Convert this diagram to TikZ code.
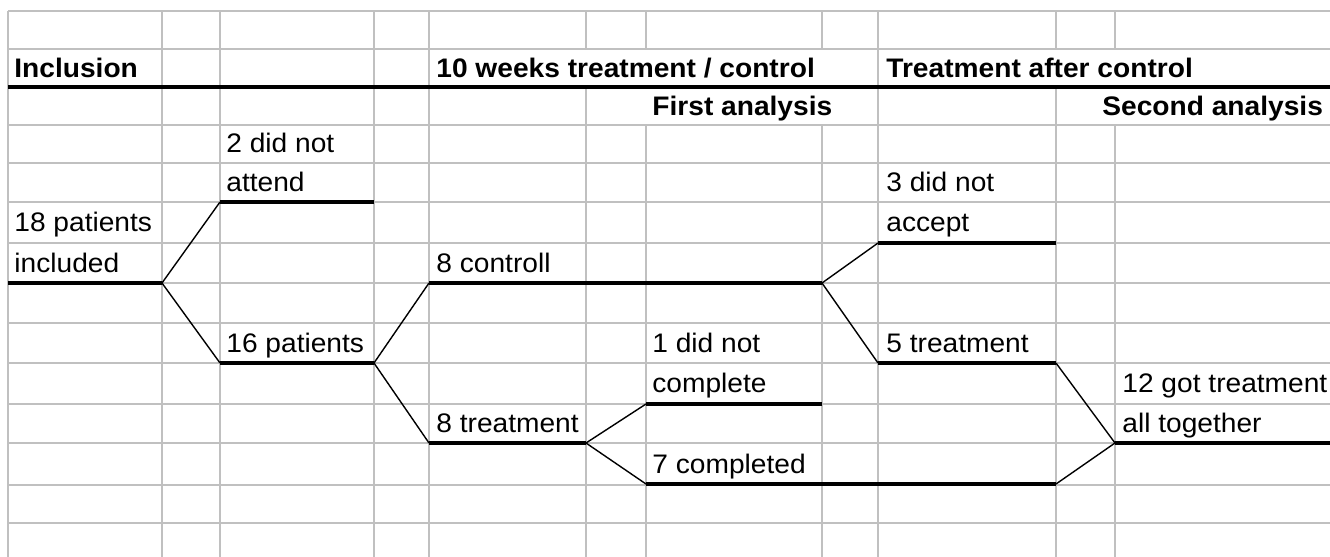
\documentclass[tikz,border=0pt]{standalone}
\usepackage{fontspec}
\setmainfont{Liberation Sans}[FakeStretch=1.05]
\definecolor{gridgray}{RGB}{192,192,192}
\tikzset{
	gridline/.style={draw=gridgray, line width=1pt},
	bar/.style={line width=1.8pt},
	branch/.style={line width=0.7pt},
	cell/.style={anchor=base west, inner sep=0pt, font=\fontsize{13.4}{16}\selectfont},
	head/.style={cell, font=\fontsize{13.4}{16}\selectfont\bfseries},
}

\begin{document}
\begin{tikzpicture}[x=0.5pt, y=-0.5pt]
		\useasboundingbox (0, 0) rectangle (1330, 557);
		% sheet grid
		\foreach \y in {11, 49, 87, 125, 163, 202, 243, 283, 323, 363, 404, 443, 485, 523}
			\draw[gridline] (8, \y) -- (1330, \y);
		\foreach \x in {8, 162, 220, 374, 429, 878}
			\draw[gridline] (\x, 11) -- (\x, 557);
		\foreach \x in {586, 1056}
			\draw[gridline] (\x, 11) -- (\x, 49) (\x, 87) -- (\x, 557);
		\foreach \x in {646, 822, 1115}
			\draw[gridline] (\x, 11) -- (\x, 49) (\x, 125) -- (\x, 557);

		\node[head] (incl-h) at (14, 77) {Inclusion};
		\node[head] (weeks-h) at (436, 77) {10 weeks treatment / control};
		\node[head] (after-h) at (886, 77) {Treatment after control};
		\node[head] (first-h) at (652, 115) {First analysis};
		\node[head] (second-h) at (1102, 115) {Second analysis};

		\node[cell] (att-a) at (226, 152) {2 did not};
		\node[cell] (att-b) at (226, 191) {attend};
		\node[cell] (incl-a) at (14, 231) {18 patients};
		\node[cell] (incl-b) at (14, 272) {included};
		\node[cell] (ctrl) at (436, 272) {8 controll};
		\node[cell] (acc-a) at (886, 191) {3 did not};
		\node[cell] (acc-b) at (886, 231) {accept};
		\node[cell] (pat) at (226, 352) {16 patients};
		\node[cell] (five) at (886, 352) {5 treatment};
		\node[cell] (ncp-a) at (652, 352) {1 did not};
		\node[cell] (ncp-b) at (652, 392) {complete};
		\node[cell] (eight) at (436, 432) {8 treatment};
		\node[cell] (all-a) at (1122, 392) {12 got treatment};
		\node[cell] (all-b) at (1122, 432) {all together};
		\node[cell] (seven) at (652, 473) {7 completed};

		% underlines of the cells
		\foreach \n/\xa/\xb/\y in {top/8/1330/87, att/220/374/202, incl/8/162/283,
			ctrl/429/822/283, acc/878/1056/243, pat/220/374/363, five/878/1056/363,
			ncp/646/822/404, eight/429/586/443, all/1115/1330/443, seven/646/1056/484}
		{
			\coordinate (\n-l) at (\xa, \y);
			\coordinate (\n-r) at (\xb, \y);
			\draw[bar] (\n-l) -- (\n-r);
		}

		\draw[branch] (att-l) -- (incl-r) -- (pat-l);
		\draw[branch] (ctrl-l) -- (pat-r) -- (eight-l);
		\draw[branch] (ncp-l) -- (eight-r) -- (seven-l);
		\draw[branch] (acc-l) -- (ctrl-r) -- (five-l);
		\draw[branch] (five-r) -- (all-l) -- (seven-r);
	\end{tikzpicture}
\end{document}
